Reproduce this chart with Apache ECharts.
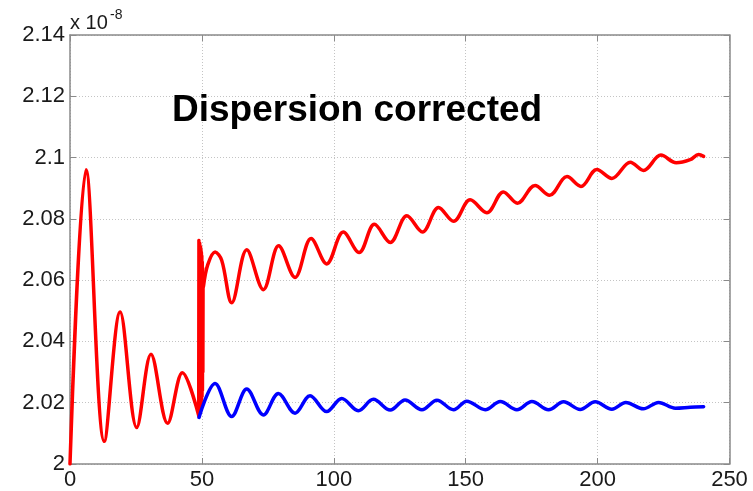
<!DOCTYPE html>
<html>
<head>
<meta charset="utf-8">
<script src="https://cdn.jsdelivr.net/npm/echarts@6/dist/echarts.min.js"></script>
<style>
  html, body { margin: 0; padding: 0; background: #fff; }
  #chart { width: 753px; height: 491px; }
</style>
</head>
<body>
<div id="chart"></div>
<script>
// Axis ticks (values in units of 1e-8)
const xTicks = [0, 50, 100, 150, 200, 250];
const yTicks = [2, 2.02, 2.04, 2.06, 2.08, 2.1, 2.12, 2.14];

// Uncorrected signal: decaying ringing before the switch-over
const redDecay = [
  [0, 2.000], [6.1, 2.096], [13.0, 2.0074], [19.0, 2.0496], [25.3, 2.0119],
  [30.7, 2.0358], [37.0, 2.0133], [42.6, 2.0298], [48.9, 2.0155]
];
// Uncorrected signal: fast burst at the switch-over
const redJump = [
  [48.70, 2.016], [48.78, 2.073], [48.86, 2.017], [48.94, 2.073], [49.02, 2.017],
  [49.10, 2.072], [49.18, 2.018], [49.26, 2.072], [49.34, 2.018], [49.42, 2.071],
  [49.50, 2.019], [49.58, 2.071], [49.66, 2.019], [49.74, 2.070], [49.82, 2.020],
  [49.90, 2.069], [49.98, 2.021], [50.06, 2.068], [50.14, 2.022], [50.22, 2.066],
  [50.30, 2.024], [50.38, 2.064], [50.46, 2.030], [50.54, 2.061], [50.60, 2.058]
];
// Uncorrected signal: drifting upward after the switch-over
const redGrowth = [
  [50.6, 2.058], [52.2, 2.065], [55.0, 2.0692], [57.5, 2.0665], [61.3, 2.0526],
  [67.0, 2.0699], [73.3, 2.0569], [79.1, 2.0712], [85.3, 2.0609], [91.4, 2.0736],
  [97.3, 2.0653], [103.6, 2.0757], [109.6, 2.0690], [115.4, 2.0782], [121.4, 2.0723],
  [127.7, 2.0810], [133.6, 2.0757], [139.7, 2.0837], [145.4, 2.0792], [151.7, 2.0862],
  [158.0, 2.0820], [164.3, 2.0888], [169.6, 2.0851], [176.3, 2.0909], [181.8, 2.0877],
  [188.4, 2.0938], [193.7, 2.0906], [199.7, 2.0961], [205.4, 2.0932], [212.4, 2.0985],
  [217.4, 2.0958], [224.0, 2.1008], [229.8, 2.0983], [235.1, 2.0993], [238.3, 2.1010],
  [240.2, 2.1004]
];
// Dispersion-corrected signal
const blueCorrected = [
  [48.9, 2.0152], [55.0, 2.0263], [61.3, 2.0155], [67.0, 2.0245], [73.3, 2.0160],
  [79.0, 2.0230], [85.3, 2.0166], [91.0, 2.0223], [97.3, 2.0171], [103.0, 2.0214],
  [109.3, 2.0174], [115.0, 2.0211], [121.4, 2.0176], [127.0, 2.0209], [133.4, 2.0177],
  [139.1, 2.0208], [145.4, 2.0177], [150.4, 2.0205], [157.4, 2.0177], [163.1, 2.0204],
  [169.4, 2.0177], [175.1, 2.0204], [181.4, 2.0177], [187.1, 2.0203], [193.4, 2.0178],
  [199.1, 2.0203], [205.4, 2.0179], [210.7, 2.0201], [217.3, 2.0180], [223.1, 2.0201],
  [229.5, 2.0182], [235.1, 2.0185], [240.2, 2.0187]
];

const titleText = 'Dispersion corrected';
const FONT = '"Liberation Sans", Arial, Helvetica, sans-serif';
const AXIS_COLOR = '#8a8a8a';
const GRID_COLOR = '#c4c4c4';

const fmtY = v => String(parseFloat(v.toFixed(2)));
const fmtX = v => String(Math.round(v));

const xBase = {
  type: 'value',
  min: xTicks[0],
  max: xTicks[xTicks.length - 1],
  interval: xTicks[1] - xTicks[0],
  axisLine: { show: true, onZero: false, lineStyle: { color: AXIS_COLOR, width: 1.5 } },
  axisTick: { show: true, inside: true, length: 6, lineStyle: { color: AXIS_COLOR } }
};
const yBase = {
  type: 'value',
  min: yTicks[0],
  max: yTicks[yTicks.length - 1],
  interval: +(yTicks[1] - yTicks[0]).toFixed(2),
  axisLine: { show: true, onZero: false, lineStyle: { color: AXIS_COLOR, width: 1.5 } },
  axisTick: { show: true, inside: true, length: 6, lineStyle: { color: AXIS_COLOR } }
};

const lineSeries = (name, data, color, smooth, z, width) => ({
  name, type: 'line', data, smooth,
  symbol: 'none', showSymbol: false, z,
  lineStyle: { color, width: width || 3.5, cap: 'round', join: 'round' }
});

const chart = echarts.init(document.getElementById('chart'), null, { renderer: 'canvas' });
chart.setOption({
  animation: false,
  backgroundColor: '#ffffff',
  grid: { left: 70, right: 23.5, top: 35, bottom: 25, containLabel: false },
  xAxis: [
    Object.assign({}, xBase, {
      position: 'bottom',
      axisLabel: { show: true, margin: 5, color: '#1a1a1a', fontSize: 22, fontFamily: FONT, formatter: fmtX },
      splitLine: { show: true, lineStyle: { color: GRID_COLOR, type: [1, 2], width: 1 } }
    }),
    Object.assign({}, xBase, {
      position: 'top',
      axisLabel: { show: false },
      splitLine: { show: false }
    })
  ],
  yAxis: [
    Object.assign({}, yBase, {
      position: 'left',
      axisLabel: { show: true, margin: 5, color: '#1a1a1a', fontSize: 22, fontFamily: FONT, formatter: fmtY },
      splitLine: { show: true, lineStyle: { color: GRID_COLOR, type: [1, 2], width: 1 } }
    }),
    Object.assign({}, yBase, {
      position: 'right',
      axisLabel: { show: false },
      splitLine: { show: false }
    })
  ],
  graphic: [
    {
      type: 'text', left: 172, top: 92, z: 100,
      style: { text: titleText, fill: '#000', font: 'bold 37px ' + FONT }
    },
    {
      type: 'text', x: 70, y: 23, z: 100,
      style: { text: 'x 10', fill: '#1a1a1a', font: '20px ' + FONT, verticalAlign: 'middle' }
    },
    {
      type: 'text', x: 110, y: 15, z: 100,
      style: { text: '-8', fill: '#1a1a1a', font: '14px ' + FONT, verticalAlign: 'middle' }
    }
  ],
  series: [
    lineSeries('uncorrected', redDecay, '#ff0000', 0.35, 2),
    lineSeries('uncorrected burst', redJump, '#ff0000', false, 2, 3),
    lineSeries('uncorrected drift', redGrowth, '#ff0000', 0.35, 2),
    lineSeries('corrected', blueCorrected, '#0000ff', 0.35, 3)
  ]
});
</script>
</body>
</html>
